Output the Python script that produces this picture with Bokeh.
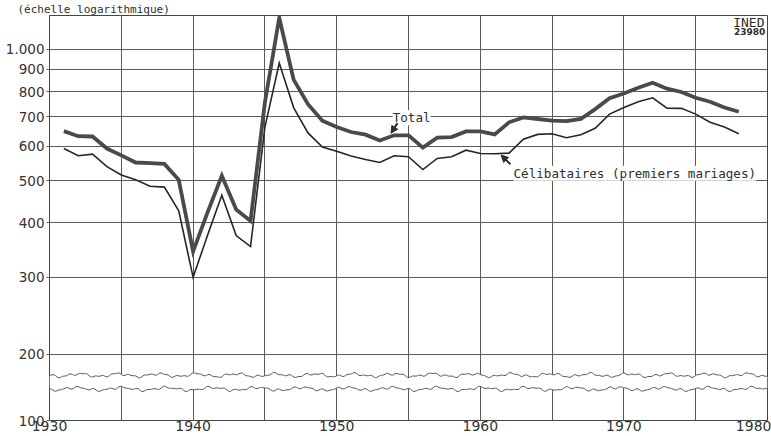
import numpy as np
from bokeh.plotting import figure
from bokeh.models import (Range1d, FixedTicker, CustomJSTickFormatter, Label,
                          Arrow, NormalHead, ColumnDataSource)
from bokeh.embed import file_html
from bokeh.resources import INLINE

# ---------------- data ----------------
YEARS = list(range(1931, 1979))
TOTAL = [649, 632, 631, 592, 571, 550, 548, 546, 502, 344,
         422, 513, 429, 404, 755, 1181, 852, 748, 686, 663,
         646, 637, 618, 635, 635, 595, 627, 629, 648, 648,
         638, 680, 698, 692, 686, 684, 692, 729, 772, 792,
         816, 838, 812, 798, 774, 758, 735, 719]
CELIBATAIRES = [592, 570, 575, 538, 515, 502, 485, 483, 426, 300,
                374, 463, 374, 353, 663, 930, 735, 643, 597, 584,
                569, 559, 550, 570, 567, 530, 562, 567, 587, 577,
                576, 578, 622, 638, 640, 627, 637, 659, 710, 735,
                758, 774, 733, 732, 710, 680, 663, 640]

X_TICKS = [1930, 1940, 1950, 1960, 1970, 1980]
X_MINOR = [1935, 1945, 1955, 1965, 1975]
Y_TICK_VALUES = [100, 200, 300, 400, 500, 600, 700, 800, 900, 1000]
Y_TICK_LABELS = ["100", "200", "300", "400", "500", "600", "700", "800", "900", "1.000"]

# axis is broken between 100 and 200: the "100" sits at the bottom of the frame
Y_BOTTOM = 140.9
Y_TOP = 1195.0
BREAK_UPPER = 179.0
BREAK_LOWER = 166.5

GRID = "#5a5a5a"
INK = "#2e2e2e"
MONO = "DejaVu Sans Mono"

p = figure(width=771, height=436, y_axis_type="log",
           x_range=Range1d(1930, 1980), y_range=Range1d(Y_BOTTOM, Y_TOP),
           output_backend="svg", toolbar_location=None,
           min_border_left=49, min_border_right=4, min_border_top=12,
           min_border_bottom=16)
p.background_fill_color = "white"
p.border_fill_color = "white"
p.outline_line_color = "#444444"
p.outline_line_width = 1

# note above the frame
p.title.text = "(échelle logarithmique)"
p.title.text_font = MONO
p.title.text_font_size = "11px"
p.title.text_font_style = "normal"
p.title.text_color = INK
p.title.align = "left"
p.title.offset = -32
p.title.standoff = 0

# x axis
p.xaxis.ticker = FixedTicker(ticks=X_TICKS, minor_ticks=X_MINOR)
p.xaxis.major_tick_out = 0
p.xaxis.major_tick_in = 0
p.xaxis.minor_tick_out = 0
p.xaxis.minor_tick_in = 0
p.xaxis.axis_line_color = None
p.xaxis.major_label_standoff = 0
p.xaxis.major_label_text_font = "DejaVu Sans"
p.xaxis.major_label_text_font_size = "14px"
p.xaxis.major_label_text_color = "#333333"
p.xgrid.grid_line_color = GRID
p.xgrid.grid_line_width = 1
p.xgrid.minor_grid_line_color = GRID
p.xgrid.minor_grid_line_width = 1

# y axis
tick_pos = [Y_BOTTOM] + Y_TICK_VALUES[1:]
p.yaxis.ticker = FixedTicker(ticks=tick_pos, minor_ticks=[])
p.yaxis.formatter = CustomJSTickFormatter(
    args=dict(pos=tick_pos, labels=Y_TICK_LABELS),
    code="""
    let best = 0, d = Infinity;
    for (let i = 0; i < pos.length; i++) {
        const e = Math.abs(Math.log(pos[i]) - Math.log(tick));
        if (e < d) { d = e; best = i; }
    }
    return labels[best];
    """)
p.yaxis.major_tick_out = 3
p.yaxis.major_tick_in = 0
p.yaxis.minor_tick_out = 0
p.yaxis.minor_tick_in = 0
p.yaxis.major_tick_line_color = GRID
p.yaxis.axis_line_color = None
p.yaxis.major_label_standoff = 2
p.yaxis.major_label_text_font = "DejaVu Sans"
p.yaxis.major_label_text_font_size = "13.5px"
p.yaxis.major_label_text_color = "#333333"
p.ygrid.grid_line_color = GRID
p.ygrid.grid_line_width = 1

# axis break (decorative wavy lines with a white gap)
bx = np.linspace(1930, 1980, 600)
w1 = 0.0032 * (np.sin(bx * 2.3) + 0.6 * np.sin(bx * 5.7 + 1.3) + 0.4 * np.sin(bx * 11.1 + 0.4))
w2 = 0.0032 * (np.sin(bx * 2.0 + 2.0) + 0.6 * np.sin(bx * 6.3 + 0.2) + 0.4 * np.sin(bx * 10.3 + 2.2))
up = 10 ** (np.log10(BREAK_UPPER) + w1)
lo = 10 ** (np.log10(BREAK_LOWER) + w2)
bsrc = ColumnDataSource(dict(x=bx, up=up, lo=lo))
p.varea(x="x", y1="lo", y2="up", source=bsrc, fill_color="white")
p.line(x="x", y="up", source=bsrc, line_color="#555555", line_width=1)
p.line(x="x", y="lo", source=bsrc, line_color="#555555", line_width=1)

# data lines
src = ColumnDataSource(dict(year=YEARS, total=TOTAL, celib=CELIBATAIRES))
p.line(x="year", y="celib", source=src, line_color="#262626", line_width=1.6,
       line_join="miter")
p.line(x="year", y="total", source=src, line_color="#4a4a4a", line_width=3.8,
       line_join="miter")

# labels
p.add_layout(Label(x=1953.9, y=697, text="Total", text_font=MONO,
                   text_font_size="12.6px", text_color=INK,
                   text_baseline="alphabetic", background_fill_color="white"))
p.add_layout(Arrow(end=NormalHead(size=7, fill_color=INK, line_color=INK),
                   x_start=1954.23, y_start=677, x_end=1953.78, y_end=642,
                   line_color=INK, line_width=2))

p.add_layout(Label(x=1962.31, y=520, text="Célibataires (premiers mariages)",
                   text_font=MONO, text_font_size="12.6px", text_color=INK,
                   text_baseline="alphabetic", background_fill_color="white"))
p.add_layout(Arrow(end=NormalHead(size=7, fill_color=INK, line_color=INK),
                   x_start=1962.10, y_start=545, x_end=1961.45, y_end=572,
                   line_color=INK, line_width=2))

p.add_layout(Label(x=1979.79, y=1152, text="INED", text_font=MONO,
                   text_font_size="13px", text_color=INK, text_align="right",
                   text_baseline="alphabetic"))
p.add_layout(Label(x=1979.85, y=1099, text="23980", text_font="DejaVu Sans",
                   text_font_size="9px", text_font_style="bold", text_color=INK,
                   text_align="right", text_baseline="alphabetic"))

open("out.html", "w").write(file_html(p, INLINE))
